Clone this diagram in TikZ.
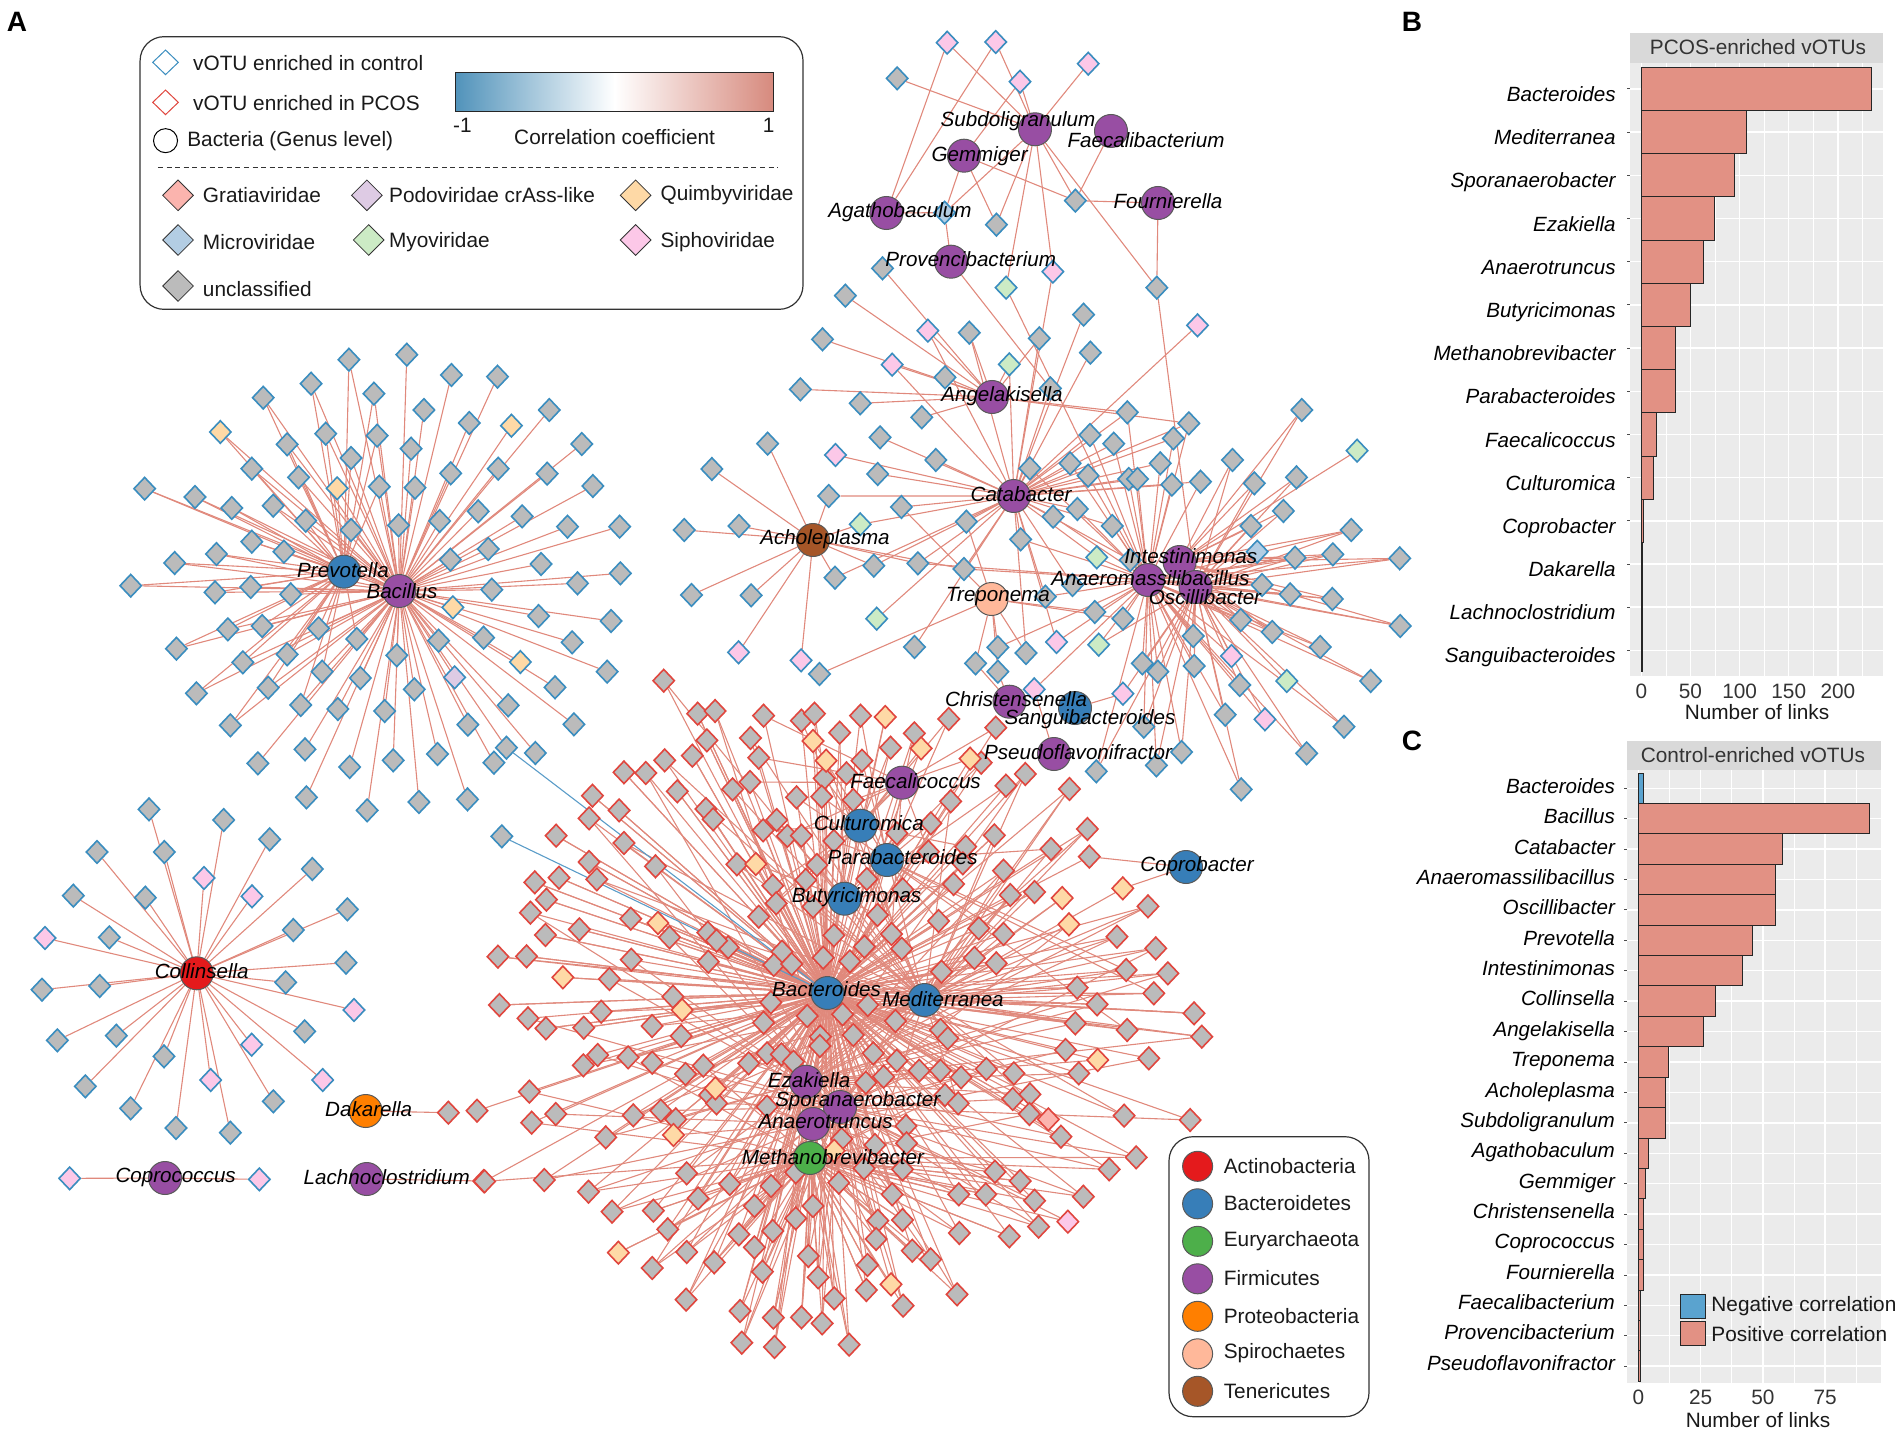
\documentclass[tikz,border=0pt]{standalone}
\usepackage{fontspec}
\setmainfont{Liberation Sans}
\usetikzlibrary{shapes.geometric}
\pgfdeclarelayer{edges}
\pgfsetlayers{edges,main}
\definecolor{cGr}{HTML}{FBB4AE}\definecolor{cPo}{HTML}{DECBE4}\definecolor{cQu}{HTML}{FED9A6}
\definecolor{cMi}{HTML}{B3CDE3}\definecolor{cMy}{HTML}{CCEBC5}\definecolor{cSi}{HTML}{FCC8E8}
\definecolor{cUn}{HTML}{BBBBBB}\definecolor{bC}{HTML}{3A8DBF}\definecolor{bR}{HTML}{E0463E}
\definecolor{lk}{HTML}{E0897C}\definecolor{nl}{HTML}{5A9CC8}\definecolor{barR}{HTML}{E29184}\definecolor{barB}{HTML}{5AA3CF}
\definecolor{Fi}{HTML}{984EA3}\definecolor{Bt}{HTML}{377EB8}\definecolor{Ax}{HTML}{E41A1C}\definecolor{Eu}{HTML}{4DAF4A}
\definecolor{Pt}{HTML}{FF7F00}\definecolor{Sx}{HTML}{FFB89A}\definecolor{Te}{HTML}{A65628}
\definecolor{pan}{HTML}{EBEBEB}\definecolor{hdr}{HTML}{D9D9D9}
\tikzset{
 vd/.style={shape=diamond,aspect=1,inner sep=0pt,minimum width=11pt,minimum height=11.6pt,line width=0.8pt},
 vcg/.style={vd,draw=bC,fill=cUn},vcs/.style={vd,draw=bC,fill=cSi},vcq/.style={vd,draw=bC,fill=cQu},
 vcm/.style={vd,draw=bC,fill=cMy},vcp/.style={vd,draw=bC,fill=cPo},vcl/.style={vd,draw=bC,fill=cMi},
 vrg/.style={vd,draw=bR,fill=cUn},vrq/.style={vd,draw=bR,fill=cQu},vrs/.style={vd,draw=bR,fill=cSi},vrr/.style={vd,draw=bR,fill=cGr},
 lnk/.style={draw=lk,line width=0.55pt},neglnk/.style={draw=nl,line width=0.55pt},
 hubc/.style={circle,draw=black!65,line width=0.5pt,minimum size=16.5pt,inner sep=0pt},
 lbl/.style={font=\fontsize{10.3}{12}\selectfont\itshape,text=black,inner sep=0pt},
 txt/.style={font=\fontsize{10.4}{12}\selectfont,text=black!90,inner sep=0pt},
 ltr/.style={font=\fontsize{14}{16}\selectfont\bfseries,text=black,inner sep=0pt},
 ldm/.style={shape=diamond,aspect=1,inner sep=0pt,minimum width=15.5pt,minimum height=15.5pt,draw=black!80,line width=0.4pt},
 z1/.style={shift={(120,20)},x=0.22321pt,y=-0.16667pt},
 z4/.style={shift={(100,330)},x=0.17857pt,y=-0.16667pt},
 z5/.style={shift={(660,20)},x=0.17857pt,y=-0.16667pt},
 z6/.style={shift={(660,400)},x=0.24237pt,y=-0.16667pt},
 z7/.style={shift={(480,660)},x=0.24237pt,y=-0.16667pt},
 z8/.style={shift={(480,1040)},x=0.28703pt,y=-0.16667pt},
 z9/.style={shift={(0,780)},x=0.16667pt,y=-0.16667pt},
}
\newcounter{vc}
\let\ee\relax
\gdef\edgelist{}
\gdef\lablist{}
\newcommand\Vset[3]{\foreach \xx/\yy in {#3}{\stepcounter{vc}%
  \node[#1] (v\thevc) at (\xx,\yy) {};%
  \foreach \hh in {#2}{\xdef\edgelist{\edgelist\noexpand\ee{\hh}{v\thevc}}}}}
\newcommand\setcyc[5]{\gdef\cyA{#1}\gdef\cyB{#2}\gdef\cyC{#3}\gdef\cyD{#4}\gdef\cyE{#5}}
\newcommand\Rset[3]{\foreach \xx/\yy in {#3}{\stepcounter{vc}%
  \node[#1] (v\thevc) at (\xx,\yy) {};%
  \pgfmathtruncatemacro\ii{mod(\number\value{vc},5)}%
  \edef\hc{\ifcase\ii\cyA\or\cyB\or\cyC\or\cyD\or\cyE\fi}%
  \foreach \hh in {#2}{\xdef\edgelist{\edgelist\noexpand\ee{\hh}{v\thevc}}}%
  \xdef\edgelist{\edgelist\noexpand\ee{\hc}{v\thevc}}}}
\newcommand\hub[7]{\node[hubc,fill=#4] (#1) at (#2,#3) {};%
  \expandafter\gdef\expandafter\lablist\expandafter{\lablist\node[lbl] (L#1) at (#5,#6) {#7};}}
\begin{document}
\begin{tikzpicture}[x=0.5pt,y=-0.5pt]
\useasboundingbox (0,0) rectangle (1904,1433);
\node[ltr] (lA) at (17,22) {A};
\node[ltr] (lB) at (1412,22) {B};
\node[ltr] (lC) at (1412,741) {C};
% Bacillus / Prevotella star
\begin{scope}[z4]
\Vset{vcg}{Ba}{859/74,984/135,1113/140,907/240,1258/240,1034/279,1349/342,871/356,1115/416,982/430,1252/431,1380/468,882/473,1059/544,1182/559,951/573,836/586,1309/590,1455/590,1087/657,981/689,1235/702,1457/730,1337/760,1097/779,1228/858,1431/873,948/932,1074/923,1322/937,831/976,1420/1025,880/1078,1274/1072,797/1143,1143/1126,1327/1183,1030/1184,945/1272,1219/1269,821/1291,1103/1298,893/1416,1029/1408,748/1441,699/1311,578/1402,442/1300,574/1258,666/1137,729/1044}
\Vset{vcg}{Ba,Pr}{697/89,591/161,767/191,457/203,632/311,776/317,524/343,703/384,425/416,556/442,782/470,125/476,266/501,369/534,485/527,576/572,703/600,425/635,515/665,326/672,209/699,86/767,422/771,322/787,534/793,358/898,454/888,612/895,214/956,719/927,524/973,400/997,622/1025,270/1090,471/1073,562/1125,365/1186}
\Vset{vcq}{Ba}{1152/287,988/832,1177/996}
\Vset{vcq}{Ba,Pr}{337/306,664/475}
\Vset{vcp}{Ba}{993/1042}
\node[vcg] (neg1) at (1138,1253) {};
\end{scope}
\begin{scope}[z7]
\node[vcg] (neg2) at (45,529) {};
\end{scope}
% Collinsella star
\begin{scope}[z9]
\Vset{vcg}{Co}{447/88,671/120,809/178,291/216,493/216,937/267,220/347,436/353,1042/388,880/450,328/472,299/618,126/629,1038/548,857/607,172/781,349/767,914/754,492/829,256/919,392/985,820/964,528/1044,691/1058}
\Vset{vcs}{Co}{612/294,756/349,135/474,1062/690,755/794,968/900,632/900}
\Vset{vcs}{Cc}{209/1195,778/1198}
\Vset{vrg}{Da}{1345/998}
\Vset{vrg}{Bc}{1431/992}
\Vset{vrg}{La}{1451/1203}
\end{scope}
% upper cluster
\begin{scope}[z5]
\Vset{vcs}{Su,Ag}{804/68,940/66}
\Vset{vcg}{Su}{664/175}
\Vset{vcs}{Su}{1199/131}
\Vset{vcs}{Su,Ge}{1008/185}
\Vset{vcl}{Ge,Su,Ag,Pv}{797/578}
\Vset{vcg}{Su,Ge}{942/614}
\Vset{vcg}{Ge,Fo,Fa,Su}{1163/542}
\Vset{vcg}{Fo,Su,Os}{1391/803}
\Vset{vcm}{Su,Aa}{969/803}
\Vset{vcs}{Su,Ca}{1100/755}
\Vset{vcg}{Ang}{623/745,519/827,455/958,798/1072,393/1108}
\Vset{vcs}{Ang,Ca}{750/932,650/1034}
\Vset{vcg}{Ang,Ca}{866/938,1062/955}
\Vset{vcg}{Ca}{1186/884,1205/998}
\Vset{vcs}{Ca}{1505/916}
\Vset{vcm}{Ang,Ca}{978/1033}
\Vset{vcg}{Pv,Ca}{1093/1105}
\end{scope}
\begin{scope}[z6]
\Vset{vcg}{Ang}{413/10,540/52}
\Vset{vcg}{Ac}{222/131,107/207,50/390,163/378,65/585,188/586}
\Vset{vcs}{Ac}{162/757,291/781}
\Vset{vcg}{Ca}{454/112,569/180,449/222}
\Vset{vcg}{Ca,Ac}{348/288,441/497,361/533}
\Vset{vcs}{Ca}{362/165}
\Vset{vcm}{Ca,Ac}{413/373}
\Vset{vcm}{Ca}{447/656}
\Vset{vcg}{Ca,Tr}{498/321,632/365}
\Vset{vcg}{Ca}{525/741}
\Vset{vcg}{Ac,Aa,Ca}{532/490,627/507}
\Vset{vcg}{Ang,Ca,Aa}{964/37,1091/70}
\Vset{vcg}{Ca,Aa}{763/205,846/190,883/227,861/327,811/350,744/418,933/378,1032/190,967/237,985/237,1056/254,1059/115,887/105,936/131,1115/245}
\Vset{vcg}{In,Os}{1181/180,1324/30,1226/250,1313/232,1286/333,1219/378}
\Vset{vcg}{Aa,Os,In}{1426/390,1310/473,1388/463,1526/475,1242/555,1300/583,1387/597,1527/678,1198/660,1263/696}
\Vset{vcm}{In}{1438/152}
\Vset{vcl}{In,Os}{1232/455}
\Vset{vcg}{Aa,Os}{1100/708,1362/741,1102/798,1466/843,1196/855,1166/944,1411/980,1334/1060,1199/1168}
\Vset{vcs}{Aa,Os}{1179/768,1248/958}
\Vset{vcm}{Os}{1293/843}
\Vset{vcm}{Aa,Ca}{901/472}
\Vset{vcg}{Aa,Ca}{970/480,851/555,795/590}
\Vset{vcg}{Aa,Tr}{897/636,955/656}
\Vset{vcm}{Aa,Os}{905/734}
\Vset{vcs}{Aa,Ca}{818/726}
\Vset{vcg}{Ca,Tr}{755/759}
\Vset{vcg}{Os,Aa}{995/790,1027/815,998/980,1076/1056,1024/1096,900/1114}
\Vset{vcs}{Os,Sg}{955/881}
\Vset{vcs}{Ps,Aa}{772/868}
\Vset{vcg}{Tr,Aa}{697/742}
\Vset{vcg}{Tr,Ch}{651/790,697/815}
\Vset{vcg}{Tr}{329/822}
\end{scope}
% red cluster, upper part
\begin{scope}[z7]
\setcyc{Bu}{Pa}{Cu}{Fc}{Me}
\Rset{vrg}{Bc}{585/167,663/182,690/161,785/167,967/177,1064/203,558/234,742/218,896/220,847/263,575/293,788/302,1034/308,756/340,710/355,557/366,521/388,1085/377,653/412,705/410,770/420,971/424,612/480,930/490,584/511,634/528,663/527,860/520,730/543,1002/560,925/575,530/613,695/615,996/610,604/677,672/660,798/657,977/672,872/688,611/730,575/770,687/740,820/765,946/783,730/826,849/822,1029/805,708/893,793/860,870/866,763/904,1020/894}
\Rset{vrq}{Bc}{836/171,687/243,910/265,1011/296,714/302,569/612}
\setcyc{Bc}{Me}{Bc}{Sp}{Bc}
\Rset{vrg}{Bc}{379/62,449/161,485/153,468/241,438/287,381/301,297/337,342/339,407/394,232/407,466/447,287/451,225/475,481/478,157/527,297/549,225/606,362/619,113/667,163/653,241/658,137/719,104/758,311/776,205/808,470/818,135/825,391/832,512/862,488/842,37/890,96/889,312/899,471/905,623/875,606/915,643/912,267/957,40/1035,398/1010,250/1055,600/1027,99/1075,136/1105,214/1103,355/1098,585/1088,675/1068,415/1128}
\Rset{vrq}{Bc}{367/789,171/952,417/1050}
\setcyc{Bc}{Ez}{Pa}{Ez}{Sp}
\Rset{vrg}{Me,Bc}{1125/342,1216/387,1061/526,1253/507,1178/567,1080/632,1094/705,1144/696,1378/739,1080/822,1314/830,1394/865,1065/910,952/935,1333/930,1419/940,800/1035,1232/983,1273/1033,1390/1000,748/1063,857/1083,1473/1060,1228/1090,1335/1110,1489/1130,770/1125,950/1110,965/1135,702/1130}
\Rset{vrq}{Me}{1201/714,1215/793}
\Vset{vrg}{Cp,Bc}{1257/590}
\Vset{vrq}{Cp,Me}{1326/685}
\end{scope}
% red cluster, lower part
\begin{scope}[z8]
\setcyc{Sp}{Ez}{Ana}{Mt}{Me}
\Rset{vrg}{Bc}{205/45,258/52,180/76,300/68,500/40,525/43,592/18,685/40,726/62,468/70,546/65,389/77,358/102,765/92,802/92,838/112,882/87,930/100,1020/30,1043/100,1165/55,86/155,400/165,412/190,672/128,703/110,810/165,833/190,928/177,958/163,132/222,90/248,267/226,315/212,341/238,500/200,957/222,1122/227,1237/240,219/292,742/258,630/297,688/315,743/310,1012/290,112/420,8/424,360/400}
\Rset{vrq}{Bc}{410/145,1076/60,337/285,617/332}
\Rset{vrr}{Bc}{990/238}
\setcyc{Sp}{Ez}{Ana}{Mt}{Sp}
\Rset{vrg}{Mt,Bc}{189/455,435/432,507/438,550/397,625/428,669/385,736/388,897/395,941/423,1143/352,1096/388,380/475,230/515,302/512,478/498,580/498,718/463,834/463,881/463,966/482,1051/470,550/535,693/542,736/540,327/568,451/583,510/573,835/579,922/589,973/560,360/636,478/622,690/597,753/632,572/648,408/667,785/658,300/684,675/675,492/695,589/712,359/779,617/775,673/750,831/763,737/797,453/813,560/832,511/833,596/850,456/908,513/921,643/914}
\Rset{vrq}{Mt}{241/638,716/733}
\Rset{vrs}{Mt}{1024/545}
\end{scope}
% hubs
\hub{Pr}{343.9}{571.7}{Bt}{343}{570}{Prevotella}
\hub{Ba}{399.3}{591}{Fi}{402}{591}{Bacillus}
\hub{Su}{1035}{129.3}{Fi}{1018}{121}{Subdoligranulum}
\hub{Fa}{1111}{131}{Fi}{1146}{140}{Faecalibacterium}
\hub{Ge}{964}{155.7}{Fi}{979.6}{155.7}{Gemmiger}
\hub{Ag}{886.4}{213}{Fi}{900}{211.7}{Agathobaculum}
\hub{Fo}{1158}{203}{Fi}{1168}{201}{Fournierella}
\hub{Pv}{951}{261.7}{Fi}{970.7}{259}{Provencibacterium}
\hub{Ang}{992}{397}{Fi}{1002}{395.7}{Angelakisella}
\hub{Ca}{1013.8}{496}{Fi}{1021}{494}{Catabacter}
\hub{Ac}{813}{540}{Te}{825}{539}{Acholeplasma}
\hub{In}{1179.6}{562}{Fi}{1190.8}{555.7}{Intestinimonas}
\hub{Aa}{1148}{580}{Fi}{1150.5}{578}{Anaeromassilibacillus}
\hub{Os}{1195.6}{587}{Fi}{1205}{596.7}{Oscillibacter}
\hub{Tr}{991.5}{599}{Sx}{998}{596.7}{Treponema}
\hub{Ch}{1009.5}{701.7}{Fi}{1016}{699}{Christensenella}
\hub{Sg}{1075}{708}{Bt}{1090}{719}{Sanguibacteroides}
\hub{Ps}{1054}{754}{Fi}{1078}{752}{Pseudoflavonifractor}
\hub{Fc}{902}{782.7}{Fi}{915.5}{780.7}{Faecalicoccus}
\hub{Cu}{860.5}{825.7}{Bt}{868.8}{823}{Culturomica}
\hub{Pa}{887}{860}{Bt}{902.7}{857}{Parabacteroides}
\hub{Bu}{844.5}{898.7}{Bt}{856.6}{896.7}{Butyricimonas}
\hub{Cp}{1186}{867}{Bt}{1197}{866}{Coprobacter}
\hub{Bc}{827.5}{993}{Bt}{826.6}{989}{Bacteroides}
\hub{Me}{924.5}{1000}{Bt}{943}{999}{Mediterranea}
\hub{Ez}{806}{1081.7}{Fi}{809}{1080}{Ezakiella}
\hub{Sp}{840}{1107}{Fi}{857.7}{1101}{Sporanaerobacter}
\hub{Ana}{813}{1124}{Fi}{825.6}{1121.7}{Anaerotruncus}
\hub{Mt}{810}{1158}{Eu}{833}{1156.7}{Methanobrevibacter}
\hub{Co}{196.7}{973.3}{Ax}{201.7}{971}{Collinsella}
\hub{Da}{365.7}{1111}{Pt}{368.7}{1109}{Dakarella}
\hub{Cc}{165}{1178}{Fi}{175.7}{1177}{Coprococcus}
\hub{La}{366.7}{1179}{Fi}{386.7}{1176.7}{Lachnoclostridium}
\lablist
\begin{pgfonlayer}{edges}
\def\ee#1#2{\draw[lnk] (#1) -- (#2);}
\edgelist
\draw[lnk] (Ba) -- (neg1);
\draw[neglnk] (Bc) -- (neg1);
\draw[neglnk] (Bc) -- (neg2);
\end{pgfonlayer}
% legend A
\begin{scope}[z1]
\draw[black!80,line width=0.6pt,rounded corners=12pt] (45,50) rectangle (1530,868);
\node[vd,draw=bC,fill=white,line width=0.5pt,minimum width=13pt,minimum height=12.5pt] (kc) at (102,127) {};
\node[txt,anchor=west] (kct) at (163,130) {vOTU enriched in control};
\node[vd,draw=bR,fill=white,line width=0.5pt,minimum width=13pt,minimum height=12.5pt] (kr) at (102,247) {};
\node[txt,anchor=west] (krt) at (163,250) {vOTU enriched in PCOS};
\node[circle,draw=black,line width=0.5pt,minimum size=12pt,inner sep=0pt] (kb) at (102,362) {};
\node[txt,anchor=west] (kbt) at (150,362) {Bacteria (Genus level)};
\shade[left color=barB!90!black,right color=barR!95!black,middle color=white] (751,157) rectangle (1464,274);
\draw[black!85,line width=0.5pt] (751,157) rectangle (1464,274);
\node[txt] (km) at (767,315) {-1};
\node[txt] (kp) at (1453,315) {1};
\node[txt] (kt) at (1108,352) {Correlation coefficient};
\draw[black!80,line width=0.4pt,dash pattern=on 2.5pt off 1.8pt] (85,443) -- (1475,443);
\node[ldm,fill=cGr] (k1) at (130,526) {}; \node[txt,anchor=west] (k1t) at (185,526) {Gratiaviridae};
\node[ldm,fill=cPo] (k2) at (553,526) {}; \node[txt,anchor=west] (k2t) at (602,526) {Podoviridae crAss-like};
\node[ldm,fill=cQu] (k3) at (1155,526) {}; \node[txt,anchor=west] (k3t) at (1210,526) {Quimbyviridae};
\node[ldm,fill=cMi] (k4) at (130,660) {}; \node[txt,anchor=west] (k4t) at (185,666) {Microviridae};
\node[ldm,fill=cMy] (k5) at (557,660) {}; \node[txt,anchor=west] (k5t) at (602,666) {Myoviridae};
\node[ldm,fill=cSi] (k6) at (1155,660) {}; \node[txt,anchor=west] (k6t) at (1210,666) {Siphoviridae};
\node[ldm,fill=cUn] (k7) at (130,798) {}; \node[txt,anchor=west] (k7t) at (185,808) {unclassified};
\end{scope}
% phylum legend
\draw[black!80,line width=0.6pt,fill=white,rounded corners=12pt] (1169,1136.7) rectangle (1369,1416.7);
\foreach \cc/\tx [count=\i from 0] in {Ax/Actinobacteria,Bt/Bacteroidetes,Eu/Euryarchaeota,Fi/Firmicutes,Pt/Proteobacteria,Sx/Spirochaetes,Te/Tenericutes}{
 \node[hubc,minimum size=15pt,fill=\cc] (ph\i) at (1197.6,{1166.3+\i*37.5}) {};
 \node[txt,anchor=west] (pht\i) at (1223.4,{1166+\i*37.5}) {\tx};
}
% panel B
\fill[hdr] (1630,33.5) rectangle (1883,63);
\fill[pan] (1630,63) rectangle (1883,676);
\node[txt,text=black!80] (hB) at (1758,47.5) {PCOS-enriched vOTUs};
\foreach \v in {25,75,125,175,225} \draw[white,line width=0.3pt] ({1641.3+\v*.983},63) -- ({1641.3+\v*.983},676);
\foreach \v in {0,50,100,150,200} {\draw[white,line width=0.7pt] ({1641.3+\v*.983},63) -- ({1641.3+\v*.983},676);
 \node[txt,text=black!80] (tb\v) at ({1641.3+\v*.983},691) {\v};}
\node[txt] (xB) at (1757,712) {Number of links};
\foreach \n/\w [count=\i from 0] in {Bacteroides/234,Mediterranea/107,Sporanaerobacter/95,Ezakiella/74,Anaerotruncus/63,Butyricimonas/50,Methanobrevibacter/35,Parabacteroides/35,Faecalicoccus/15,Culturomica/12,Coprobacter/2,Dakarella/1,Lachnoclostridium/1,Sanguibacteroides/1}{
 \draw[white,line width=0.7pt] (1630,{88.9+\i*43.19}) -- (1883,{88.9+\i*43.19});
 \draw[black!70,line width=0.4pt] (1627,{88.9+\i*43.19}) -- (1630,{88.9+\i*43.19});
 \node[lbl,anchor=base east] (nb\i) at (1616,{88.9+12.6+\i*43.19}) {\n};
}
\foreach \n/\w [count=\i from 0] in {Bacteroides/234,Mediterranea/107,Sporanaerobacter/95,Ezakiella/74,Anaerotruncus/63,Butyricimonas/50,Methanobrevibacter/35,Parabacteroides/35,Faecalicoccus/15,Culturomica/12,Coprobacter/2,Dakarella/1,Lachnoclostridium/1,Sanguibacteroides/1}{
 \draw[black!85,fill=barR,line width=0.5pt] (1641.3,{88.9+\i*43.19-21.6}) rectangle ({1641.3+\w*.983},{88.9+\i*43.19+21.6});
}
% panel C
\fill[hdr] (1627,740.5) rectangle (1880.7,770);
\fill[pan] (1627,770) rectangle (1880.7,1383);
\node[txt,text=black!80] (hC) at (1753,755.5) {Control-enriched vOTUs};
\foreach \v in {12.5,37.5,62.5,87.5} \draw[white,line width=0.3pt] ({1638.3+\v*2.49},770) -- ({1638.3+\v*2.49},1383);
\foreach \v in {0,25,50,75} {\draw[white,line width=0.7pt] ({1638.3+\v*2.49},770) -- ({1638.3+\v*2.49},1383);
 \node[txt,text=black!80] (tc\v) at ({1638.3+\v*2.49},1397.5) {\v};}
\node[txt] (xC) at (1758,1420) {Number of links};
\foreach \n/\w [count=\i from 0] in {Bacteroides/2,Bacillus/93,Catabacter/58,Anaeromassilibacillus/55,Oscillibacter/55,Prevotella/46,Intestinimonas/42,Collinsella/31,Angelakisella/26,Treponema/12,Acholeplasma/11,Subdoligranulum/11,Agathobaculum/4,Gemmiger/3,Christensenella/2,Coprococcus/2,Fournierella/2,Faecalibacterium/1,Provencibacterium/1,Pseudoflavonifractor/1}{
 \draw[white,line width=0.7pt] (1627,{788.2+\i*30.42}) -- (1880.7,{788.2+\i*30.42});
 \draw[black!70,line width=0.4pt] (1624,{788.2+\i*30.42}) -- (1627,{788.2+\i*30.42});
 \node[lbl,anchor=base east] (nc\i) at (1615.3,{788.2+5.2+\i*30.36}) {\n};
}
\foreach \n/\w [count=\i from 0] in {Bacteroides/2,Bacillus/93,Catabacter/58,Anaeromassilibacillus/55,Oscillibacter/55,Prevotella/46,Intestinimonas/42,Collinsella/31,Angelakisella/26,Treponema/12,Acholeplasma/11,Subdoligranulum/11,Agathobaculum/4,Gemmiger/3,Christensenella/2,Coprococcus/2,Fournierella/2,Faecalibacterium/1,Provencibacterium/1,Pseudoflavonifractor/1}{
 \ifnum\i=0\def\fc{barB}\else\def\fc{barR}\fi
 \draw[black!85,fill=\fc,line width=0.5pt] (1638.3,{788.2+\i*30.42-15.2}) rectangle ({1638.3+\w*2.49},{788.2+\i*30.42+15.2});
}
\draw[black!85,fill=barB,line width=0.5pt] (1680,1294) rectangle (1705,1318.4);
\draw[black!85,fill=barR,line width=0.5pt] (1680,1321) rectangle (1705,1345.7);
\node[txt,anchor=west] (ln) at (1711,1306) {Negative correlation};
\node[txt,anchor=west] (lp) at (1711,1334) {Positive correlation};
\end{tikzpicture}
\end{document}
